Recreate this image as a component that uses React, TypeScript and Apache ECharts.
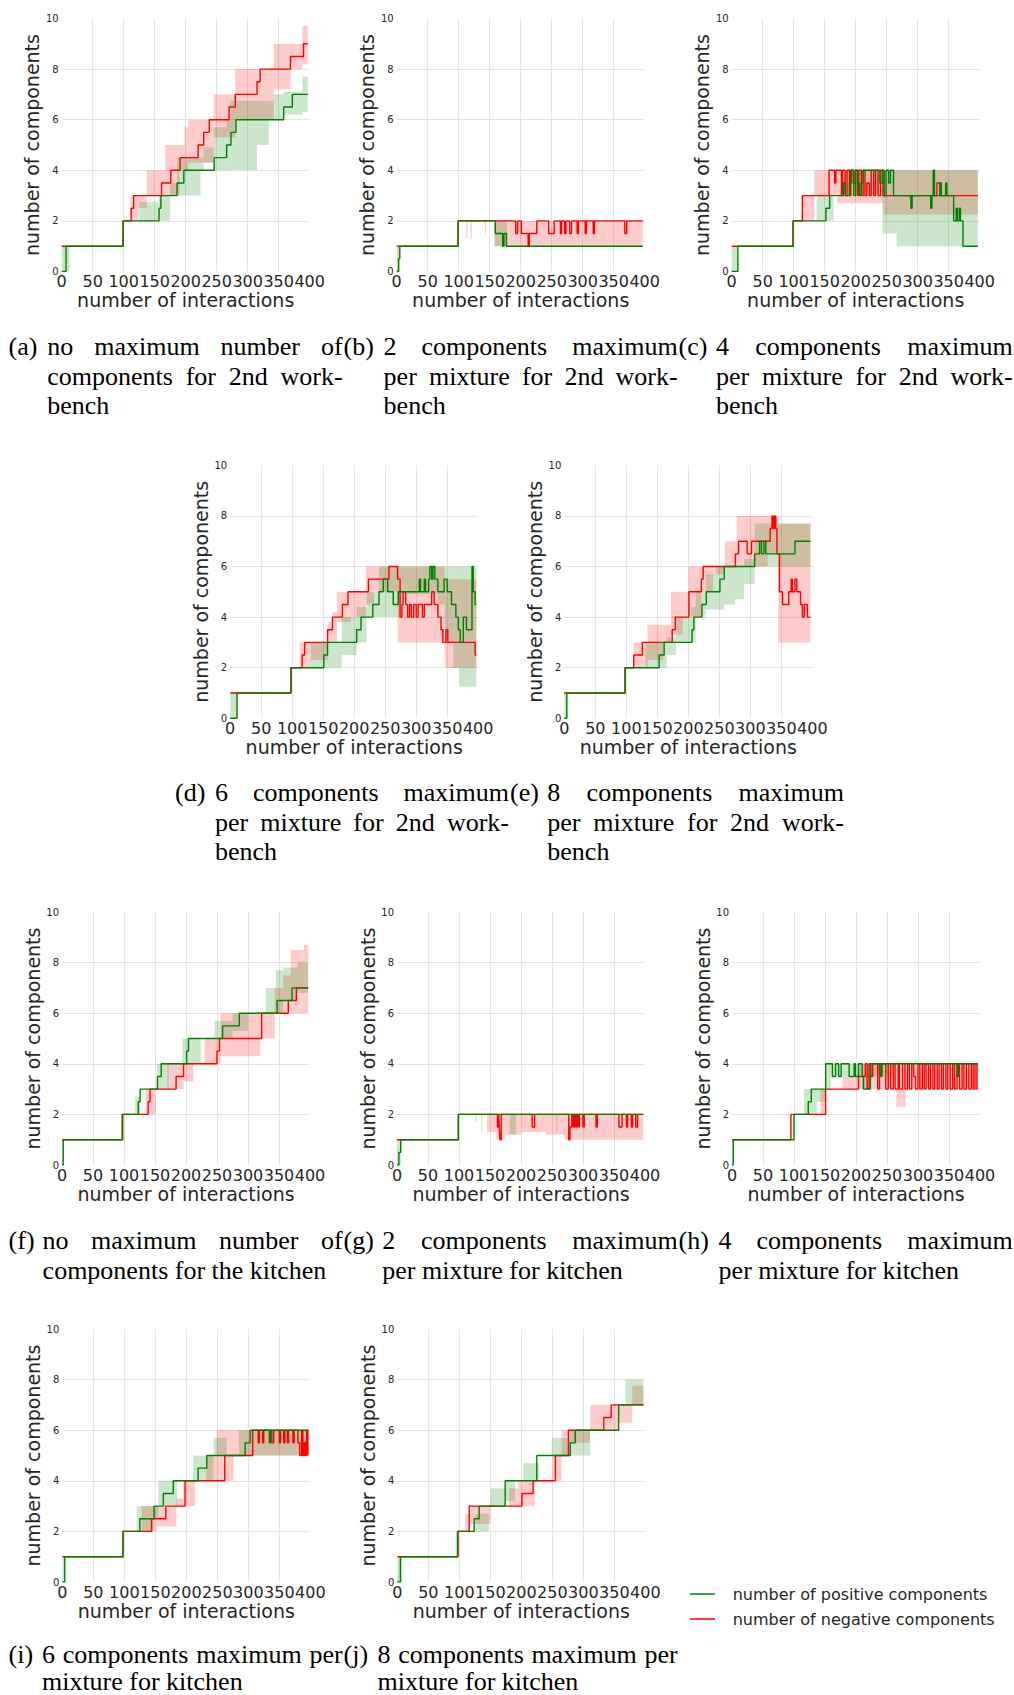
import React, { useEffect, useRef } from 'react';
import * as echarts from 'echarts';

const X_NAME = 'number of interactions';
const Y_NAME = 'number of components';
const POS_NAME = 'number of positive components';
const NEG_NAME = 'number of negative components';

type Step = [number, number][];
type Band = [number, number, number][];

// ---- (a) ----
const aPos: Step = [[0,0],[7,1],[99,2],[157,2.5],[160,3],[186,3.5],[197,4],[246,4.5],[266,5],[273,5.5],[281,6],[358,6.5],[372,7],[397,7]];
const aNeg: Step = [[0,1],[99,2],[112,2.5],[116,3],[161,3.5],[176,4],[191,4.5],[220,5],[229,5.5],[238,6],[270,6.5],[280,7],[315,7.5],[320,8],[369,8.5],[390,9],[397,9]];
const aPosBand: Band = [[0,0,1],[13,1,1],[99,2,2],[125,2,2.75],[156,2,3],[175,3,3.5],[186,3,4.5],[224,4,4.5],[229,4.3,4.9],[245,4,5.7],[266,4,6],[272,4,6.75],[315,5,6.75],[334,6,6.75],[342,6,7],[358,6.2,7.1],[388,6.3,7.7],[397,6.3,7.7]];
const aNegBand: Band = [[0,1,1],[99,2,2],[111,2,3],[124,2.5,3],[137,3,4],[160,3,4],[167,3,5],[190,4,5],[198,4,5.7],[204,4.3,6],[245,5.3,7],[280,6,8],[342,7.2,9],[369,8,9],[388,8.2,9.7],[397,8.2,9.7]];

// ---- (b) ----
const bPos: Step = [[0,0],[3,0.5],[5,1],[99,2],[159,1.5],[171,1],[173,1.5],[177,1],[397,1]];
const bNeg: Step = [[0,1],[99,2],[192,1.5],[195,2],[201,1.5],[212,1],[214,1.5],[226,2],[245,1.5],[254,2],[264,1.5],[266,2],[271,1.5],[273,2],[279,1.5],[282,2],[291,1.5],[293,2],[304,1.5],[306,2],[317,1.5],[319,2],[368,1.5],[371,2],[397,2]];
const bPosBand: Band = [[0,0,1],[5,1,1],[99,2,2],[157,1,2],[178,1,1],[397,1,1]];
const bNegBand: Band = [[0,1,1],[99,2,2],[112,1.3,2],[114,2,2],[119,1.3,2],[121,2,2],[142,1.5,2],[144,2,2],[159,1,2],[397,1,2]];

// ---- (c) ----
const cPos: Step = [[0,0],[10,1],[99,2],[152,2.5],[158,3],[180,3.5],[183,3],[190,3.5],[193,4],[197,3],[200,4],[203,3.5],[206,3],[209,3.5],[212,4],[239,3.5],[243,4],[246,3],[249,4],[253,3.5],[256,4],[261,3],[289,2.5],[291,3],[321,2.5],[323,3],[325,4],[327,3],[336,3.5],[338,3],[345,3.5],[347,3],[358,2],[362,2.5],[364,2],[367,2.5],[369,2],[373,1],[397,1]];
const cNeg: Step = [[0,1],[99,2],[114,3],[157,4],[166,3.5],[168,4],[177,3],[179,4],[183,3],[186,4],[190,3],[192,4],[196,3.5],[199,4],[203,3],[205,4],[209,3],[212,4],[215,3],[218,3.5],[222,3],[225,4],[229,3],[232,4],[236,3],[240,4],[244,3],[331,3.5],[336,3],[397,3]];
const cPosBand: Band = [[0,0,1],[10,1,1],[99,2,2],[137,2,3],[164,3,3],[180,3,4],[243,1.5,4],[266,1,4],[397,1,4]];
const cNegBand: Band = [[0,1,1],[99,2,2],[113,2,3],[133,3,4],[170,2.7,4],[245,2.25,4],[397,2.25,4]];

// ---- (d) ----
const dPos: Step = [[0,0],[11,1],[98,2],[151,2.5],[157,3],[204,3.5],[211,4],[230,4.5],[240,5],[247,5.5],[254,5],[263,4.5],[271,5],[305,5.5],[307,5],[313,5.5],[315,5],[320,5.5],[322,6],[325,5.5],[327,6],[330,5.5],[335,5],[345,5.5],[350,5],[357,4.5],[364,4],[368,3.5],[371,3],[376,4],[381,3.5],[390,6],[392,5],[395,4.5],[397,4.5]];
const dNeg: Step = [[0,1],[98,2],[116,2.5],[120,3],[157,3.5],[165,4],[181,4.5],[190,5],[223,5.5],[256,6],[270,5.5],[274,4],[277,4.5],[279,5],[283,4.5],[286,4],[289,4.5],[292,4],[296,4.5],[300,4],[303,4.5],[310,4],[313,4.5],[325,5],[329,4.5],[335,4],[340,3.5],[343,3],[348,3.5],[351,3],[395,2.5],[397,2.5]];
const dPosBand: Band = [[0,0,1],[12,1,1],[98,2,2],[130,2,3],[158,2,3],[180,2.5,4],[204,3,4.4],[220,4,5],[240,4,6],[276,4.9,6],[335,4.5,6],[346,3,6],[360,2,6],[369,1.25,6],[397,1.25,6]];
const dNegBand: Band = [[0,1,1],[98,2,2],[112,2,3],[130,2.3,3],[157,3,3.8],[165,3,4.2],[172,3.8,5],[195,4,5],[219,4.5,6],[232,5,6],[270,3,6],[346,2,5.5],[397,2,5.5]];

// ---- (e) ----
const ePos: Step = [[0,0],[4,1],[98,2],[153,2.5],[161,3],[206,3.5],[209,4],[222,4.5],[229,5],[251,5.5],[258,6],[307,6.5],[315,7],[318,6.5],[322,7],[325,6.5],[372,7],[397,7]];
const eNeg: Step = [[0,1],[98,2],[112,2.5],[126,3],[174,3.5],[179,4],[201,5],[221,5.5],[224,6],[276,6.5],[281,7],[295,6.5],[302,7],[332,7.5],[335,8],[337,7.5],[339,8],[341,7.5],[343,6.5],[347,5],[352,4.5],[362,5],[366,5.5],[368,5],[372,5.5],[375,5],[381,4.5],[384,4],[387,4.5],[392,4],[397,4]];
const ePosBand: Band = [[0,0,1],[5,1,1],[98,2,2],[131,2,3],[165,2.5,3.2],[180,3,4],[205,3,4.4],[212,4,5],[228,4.3,5.7],[245,4.3,6],[258,4.5,6],[275,4.7,6],[290,5.3,6.3],[307,6,7.7],[397,6,7.7]];
const eNegBand: Band = [[0,1,1],[98,2,2],[112,2,3],[134,2.3,3.7],[160,3,3.7],[172,3.3,5],[191,4,5],[200,4,6],[221,5,6],[240,5.7,6],[259,6,7],[278,6,8],[328,6.5,8],[345,3,7.7],[397,3,7.7]];

// ---- (f) ----
const fPos: Step = [[0,0],[2,1],[97,2],[123,2.5],[126,3],[154,3.5],[160,4],[201,4.5],[204,5],[259,5.5],[286,6],[347,6.5],[371,7],[397,7]];
const fNeg: Step = [[0,1],[98,2],[139,2.5],[142,3],[184,3.5],[196,4],[250,4.5],[254,5],[322,6],[365,6.5],[378,7],[397,7]];
const fPosBand: Band = [[0,0,1],[3,1,1],[97,2,2],[118,2,2.7],[126,3,3],[153,3,4],[172,4,4],[194,4,5],[224,5,5],[246,5,5.7],[275,5.3,6],[300,6,6],[329,6,7],[345,6,7.7],[357,6.5,7.8],[380,6.8,8],[397,6.8,8]];
const fNegBand: Band = [[0,1,1],[98,2,2],[135,2,3],[151,3,3],[170,3,4],[196,3.3,4],[212,4,4],[230,4,5],[256,4.3,6],[320,5,6],[343,6,7],[357,6,7.5],[369,6,8.5],[390,6,8.7],[397,6,8.7]];

// ---- (g) ----
const gPos: Step = [[0,0],[3,0.5],[6,1],[99,2],[397,2]];
const gNeg: Step = [[0,1],[99,2],[162,1.5],[164,2],[165,1.5],[166,1],[168,2],[218,1.5],[222,2],[277,1],[279,1.5],[282,2],[284,1.5],[286,2],[288,1.5],[290,2],[292,1.5],[294,2],[300,1.5],[302,2],[321,1.5],[323,2],[358,1.5],[363,2],[370,1.5],[372,2],[378,1.5],[380,2],[385,1.5],[388,2],[397,2]];
const gPosBand: Band = [[0,0,1],[6,1,1],[99,2,2],[136,1.3,2],[138,2,2],[182,1.2,2],[192,2,2],[257,1.3,2],[259,2,2],[397,2,2]];
const gNegBand: Band = [[0,1,1],[99,2,2],[126,1.7,2],[128,2,2],[145,1.3,2],[160,1,2],[175,1.2,2],[200,1.3,2],[240,1.2,2],[270,1,2],[397,1,2]];

// ---- (h) ----
const hPos: Step = [[0,0],[2,1],[100,2],[123,2.5],[128,3],[151,4],[162,3.5],[167,4],[172,3.5],[176,4],[189,3.5],[197,4],[199,3.5],[204,4],[210,3.5],[212,3],[223,4],[240,3.5],[242,4],[363,3.5],[365,4],[397,4]];
const hNeg: Step = [[0,1],[95,2],[151,3],[204,3.5],[215,4],[218,3],[221,4],[224,3.5],[227,4],[235,3],[238,4],[248,3],[252,4],[256,3],[260,4],[263,3],[268,4],[270,3],[275,4],[279,3],[283,4],[286,3],[290,4],[293,3.5],[296,3],[300,4],[303,3],[307,4],[310,3],[313,4],[317,3],[320,4],[324,3],[327,4],[331,3],[334,4],[338,3],[341,4],[345,3],[348,4],[352,3],[356,4],[359,3],[363,4],[367,3],[371,4],[374,3],[378,4],[382,3],[386,4],[389,3],[392,4],[395,3],[397,3]];
const hPosBand: Band = [[0,0,1],[3,1,1],[100,2,2],[116,2,3],[137,2.5,3],[150,3,4],[160,3.5,4],[210,3,4],[225,3.5,4],[260,4,4],[397,4,4]];
const hNegBand: Band = [[0,1,1],[95,2,2],[143,2,3],[151,3,3],[178,3,3.5],[205,3,4],[265,2.3,4],[280,3,4],[397,3,4]];

// ---- (i) ----
const iPos: Step = [[0,0],[4,1],[98,2],[125,2.5],[148,3],[163,3.5],[179,4],[219,4.5],[233,5],[295,5.5],[303,6],[334,5.5],[336,6],[397,6]];
const iNeg: Step = [[0,1],[98,2],[144,2.5],[167,3],[198,4],[262,5],[307,6],[316,5.5],[318,6],[323,5.5],[325,6],[338,5.5],[341,6],[350,5.5],[352,6],[357,5.5],[359,6],[363,5.5],[365,6],[372,5.5],[374,6],[380,5.5],[383,5],[386,6],[388,5],[390,5.5],[392,5],[394,6],[396,5],[397,5]];
const iPosBand: Band = [[0,0,1],[4,1,1],[98,2,2],[120,2,3],[147,2.5,3],[155,3,4],[185,4,4],[211,4,5],[244,5,5.7],[265,5,5],[285,5,6],[397,5,6]];
const iNegBand: Band = [[0,1,1],[98,2,2],[128,2,3],[152,2.2,3],[184,3,3.3],[195,3,4],[214,4,4],[232,4,5],[249,4,6],[276,5,6],[397,5,6]];

// ---- (j) ----
const jPos: Step = [[0,0],[5,1],[97,2],[124,2.5],[132,3],[174,4],[225,5],[279,5.5],[287,6],[357,7],[397,7]];
const jNeg: Step = [[0,1],[98,2],[116,3],[201,3.5],[219,4],[255,5],[276,6],[333,6.5],[345,7],[397,7]];
const jPosBand: Band = [[0,0,1],[8,1,1],[97,2,2],[126,2,2.7],[148,3,3],[150,3,3.7],[174,3.2,4],[190,4,4],[203,4,4.7],[228,5,5],[249,5,5.7],[279,5,6],[311,6,6],[357,7,7],[368,7,8],[397,7,8]];
const jNegBand: Band = [[0,1,1],[98,2,2],[109,2,2.7],[118,2.3,3],[150,3,3],[180,3,3.7],[195,3,4],[222,4,4],[250,4,5],[265,5,6],[276,5.5,6],[311,6,7],[357,6.3,7],[379,7,7.75],[397,7,7.75]];

const panels = [
  { pos: aPos, neg: aNeg, posBand: aPosBand, negBand: aNegBand },
  { pos: bPos, neg: bNeg, posBand: bPosBand, negBand: bNegBand },
  { pos: cPos, neg: cNeg, posBand: cPosBand, negBand: cNegBand },
  { pos: dPos, neg: dNeg, posBand: dPosBand, negBand: dNegBand },
  { pos: ePos, neg: eNeg, posBand: ePosBand, negBand: eNegBand },
  { pos: fPos, neg: fNeg, posBand: fPosBand, negBand: fNegBand },
  { pos: gPos, neg: gNeg, posBand: gPosBand, negBand: gNegBand },
  { pos: hPos, neg: hNeg, posBand: hPosBand, negBand: hNegBand },
  { pos: iPos, neg: iNeg, posBand: iPosBand, negBand: iNegBand },
  { pos: jPos, neg: jNeg, posBand: jPosBand, negBand: jNegBand },
];

const captions = [
  { label: '(a)', letter: 'a', lines: ['no maximum number of', 'components for 2nd work-', 'bench'] },
  { label: '(b)', letter: 'b', lines: ['2 components maximum', 'per mixture for 2nd work-', 'bench'] },
  { label: '(c)', letter: 'c', lines: ['4 components maximum', 'per mixture for 2nd work-', 'bench'] },
  { label: '(d)', letter: 'd', lines: ['6 components maximum', 'per mixture for 2nd work-', 'bench'] },
  { label: '(e)', letter: 'e', lines: ['8 components maximum', 'per mixture for 2nd work-', 'bench'] },
  { label: '(f)', letter: 'f', lines: ['no maximum number of', 'components for the kitchen'] },
  { label: '(g)', letter: 'g', lines: ['2 components maximum', 'per mixture for kitchen'] },
  { label: '(h)', letter: 'h', lines: ['4 components maximum', 'per mixture for kitchen'] },
  { label: '(i)', letter: 'i', lines: ['6 components maximum per', 'mixture for kitchen'] },
  { label: '(j)', letter: 'j', lines: ['8 components maximum per', 'mixture for kitchen'] },
];

// ---- layout (pixels) ----
const GRID_W = 248;
const GRID_H = 253;
const gridPos: [number, number][] = [
  [61.7, 18.5], [396.7, 18.5], [731.7, 18.5],
  [230.2, 465.3], [564.3, 465.3],
  [62, 912], [397, 912], [732, 912],
  [62.3, 1329], [397.3, 1329],
];
const captionPos: { x: number; ys: number[] }[] = [
  { x: 8.6, ys: [346, 376, 405.5] },
  { x: 343.6, ys: [346, 376, 405.5] },
  { x: 678.6, ys: [346, 376, 405.5] },
  { x: 175, ys: [792.4, 822.6, 851.8] },
  { x: 510, ys: [792.4, 822.6, 851.8] },
  { x: 8.6, ys: [1240, 1270] },
  { x: 343.6, ys: [1240, 1270] },
  { x: 678.6, ys: [1240, 1270] },
  { x: 8.6, ys: [1654, 1681] },
  { x: 343.6, ys: [1654, 1681] },
];
const CAP_SIZE = 26;
const CAP_FONT = '"Liberation Serif", "Times New Roman", serif';
const CAP_WIDTH = 334;
const letterEm: Record<string, number> = { a: 0.5, b: 0.556, c: 0.444, d: 0.556, e: 0.444, f: 0.306, g: 0.5, h: 0.556, i: 0.278, j: 0.306 };
const SANS = '"DejaVu Sans", sans-serif';
const TXT = '#262626';

function toRects(band: Band): number[][] {
  const out: number[][] = [];
  for (let j = 0; j < band.length - 1; j++) {
    out.push([band[j][0], band[j + 1][0], band[j][1], band[j][2]]);
  }
  return out;
}

function bandRender(color: string) {
  return (params: any, api: any) => {
    const p1 = api.coord([api.value(0), api.value(3)]);
    const p2 = api.coord([api.value(1), api.value(2)]);
    return {
      type: 'rect',
      shape: { x: p1[0], y: p1[1], width: p2[0] - p1[0], height: p2[1] - p1[1] },
      style: { fill: color },
    };
  };
}

function buildOption() {
  const grid = gridPos.map((g) => ({ left: g[0], top: g[1], width: GRID_W, height: GRID_H }));
  const xAxis = gridPos.map((_, i) => ({
    type: 'value', gridIndex: i, min: 0, max: 400, interval: 50,
    name: X_NAME, nameLocation: 'middle', nameGap: 19,
    nameTextStyle: { fontSize: 19, color: TXT, fontFamily: SANS },
    axisLine: { show: false }, axisTick: { show: false },
    axisLabel: { fontSize: 16, color: TXT, margin: 2, fontFamily: SANS },
    splitLine: { show: true, showMinLine: false, showMaxLine: false, lineStyle: { color: '#e4e4e4', width: 1 } },
  }));
  const yAxis = gridPos.map((_, i) => ({
    type: 'value', gridIndex: i, min: 0, max: 10, interval: 2,
    name: Y_NAME, nameLocation: 'middle', nameGap: 20,
    nameTextStyle: { fontSize: 19, color: TXT, fontFamily: SANS },
    axisLine: { show: false }, axisTick: { show: false },
    axisLabel: { fontSize: 10, color: TXT, margin: 3, fontFamily: SANS },
    splitLine: { show: true, showMinLine: false, showMaxLine: false, lineStyle: { color: '#e4e4e4', width: 1 } },
  }));
  const series: any[] = [];
  panels.forEach((p, i) => {
    series.push({
      type: 'custom', xAxisIndex: i, yAxisIndex: i, silent: true, z: 1,
      data: toRects(p.negBand), encode: { x: [0, 1], y: [2, 3] },
      renderItem: bandRender('rgba(255,0,0,0.2)'),
    });
    series.push({
      type: 'custom', xAxisIndex: i, yAxisIndex: i, silent: true, z: 1,
      data: toRects(p.posBand), encode: { x: [0, 1], y: [2, 3] },
      renderItem: bandRender('rgba(0,128,0,0.2)'),
    });
    series.push({
      type: 'line', name: NEG_NAME, xAxisIndex: i, yAxisIndex: i, data: p.neg, step: 'end',
      symbol: 'none', showSymbol: false, silent: true, z: 3,
      lineStyle: { color: '#ff0000', width: 1.4 }, itemStyle: { color: '#ff0000' },
    });
    series.push({
      type: 'line', name: POS_NAME, xAxisIndex: i, yAxisIndex: i, data: p.pos, step: 'end',
      symbol: 'none', showSymbol: false, silent: true, z: 4,
      lineStyle: { color: '#008000', width: 1.4 }, itemStyle: { color: '#008000' },
    });
  });

  // captions
  const graphic: any[] = [];
  const ctx = document.createElement('canvas').getContext('2d') as CanvasRenderingContext2D;
  ctx.font = `${CAP_SIZE}px ${CAP_FONT}`;
  const capStyle = (text: string) => ({
    text, fill: '#000', fontSize: CAP_SIZE, fontFamily: CAP_FONT, align: 'left', verticalAlign: 'middle',
  });
  captions.forEach((c, i) => {
    const pos = captionPos[i];
    graphic.push({ type: 'text', x: pos.x, y: pos.ys[0], style: capStyle(c.label), silent: true });
    const tl = pos.x + (0.778 + letterEm[c.letter] + 0.333) * 24;
    const tr = pos.x + CAP_WIDTH;
    c.lines.forEach((line, li) => {
      const justify = li < c.lines.length - 1;
      const y = pos.ys[li];
      if (!justify) {
        graphic.push({ type: 'text', x: tl, y, style: capStyle(line), silent: true });
        return;
      }
      const words = line.split(' ');
      const widths = words.map((w) => ctx.measureText(w).width);
      const sum = widths.reduce((s, v) => s + v, 0);
      const gap = words.length > 1 ? (tr - tl - sum) / (words.length - 1) : 0;
      let x = tl;
      words.forEach((w, wi) => {
        graphic.push({ type: 'text', x, y, style: capStyle(w), silent: true });
        x += widths[wi] + gap;
      });
    });
  });

  // legend
  const legendItems = [
    { name: POS_NAME, color: '#008000', y: 1594 },
    { name: NEG_NAME, color: '#ff0000', y: 1619 },
  ];
  legendItems.forEach((l) => {
    graphic.push({ type: 'line', shape: { x1: 690, y1: l.y, x2: 715, y2: l.y }, style: { stroke: l.color, lineWidth: 1.5 }, silent: true });
    graphic.push({ type: 'text', x: 732.7, y: l.y, style: { text: l.name, fill: TXT, fontSize: 16, fontFamily: SANS, align: 'left', verticalAlign: 'middle' }, silent: true });
  });

  return {
    animation: false,
    backgroundColor: '#ffffff',
    grid, xAxis, yAxis, series, graphic,
  };
}

export default function App() {
  const ref = useRef<HTMLDivElement>(null);
  useEffect(() => {
    if (!ref.current) return;
    const chart = echarts.init(ref.current, null, { renderer: 'svg' });
    chart.setOption(buildOption() as any);
    return () => chart.dispose();
  }, []);
  return (
    <div
      ref={ref}
      style={{ position: 'absolute', left: 0, top: 0, width: 1014, height: 1695, background: '#fff' }}
    />
  );
}
